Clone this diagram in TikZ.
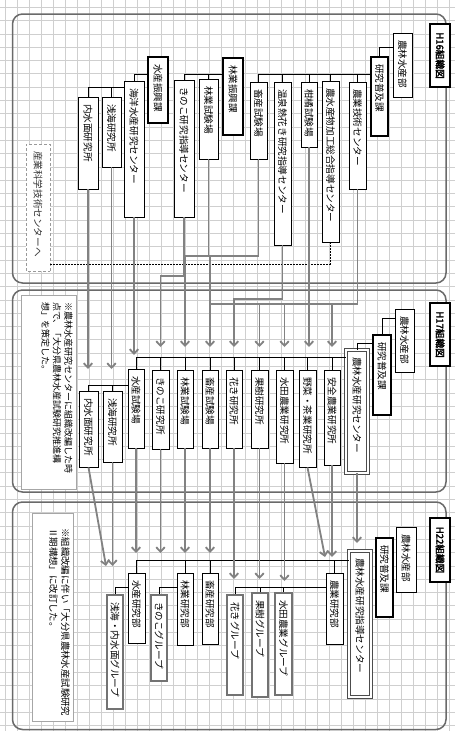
\documentclass[tikz,border=0pt]{standalone}
\usepackage{fontspec}
\setmainfont{Noto Sans CJK JP}
\newfontfamily\hdfont[FakeBold=2.5]{Noto Sans CJK JP}
\usetikzlibrary{arrows.meta}
\definecolor{gridc}{HTML}{CFCFCF}
\definecolor{panelc}{HTML}{6A6A6A}
\definecolor{arrc}{HTML}{828282}
\tikzset{
  ob/.style={draw=black, line width=0.8pt, fill=white, inner sep=0pt, rotate=-90, font=\fontsize{9.6}{11}\selectfont},
  tb/.style={ob, line width=1.9pt},
  db/.style={ob, draw=black!70, double=white, double distance=1.5pt, line width=0.8pt},
  gb/.style={ob, draw=black!55, line width=1.1pt},
  hb/.style={ob, line width=1.4pt, font=\hdfont\fontsize{9.6}{11}\selectfont},
  sb/.style={ob, draw=black!40, dash pattern=on 3pt off 2pt, text=black!80},
  nb/.style={ob, draw=black!35},
  ntxt/.style={rotate=-90, anchor=north west, align=left, inner sep=0pt},
  ln/.style={draw=black, line width=0.75pt},
  dl/.style={draw=black, line width=0.9pt, dash pattern=on 2pt off 1pt},
  garr/.style={draw=arrc, line width=1.8pt},
  arr/.style={garr, -{Straight Barb[length=4.5pt,width=8.5pt]}},
  pn/.style={draw=panelc, line width=1.5pt, rounded corners=10pt},
}
\newcommand\bx[7]{\node[#1, minimum width={(#5-#4)*1pt}, minimum height={(#3-#2)*1pt}] (#6) at ({(#2+#3)/2},{(#4+#5)/2}) {\makebox[\dimexpr #5pt-#4pt-14pt\relax][l]{#7}};}
\newcommand\hx[7]{\node[#1, minimum width={(#5-#4)*1pt}, minimum height={(#3-#2)*1pt}] (#6) at ({(#2+#3)/2},{(#4+#5)/2}) {#7};}
\begin{document}
\begin{tikzpicture}[x=1pt,y=-1pt]
\useasboundingbox (0,0) rectangle (455,731);
\fill[white] (0,0) rectangle (455,731);
\foreach \i in {0,...,37} \draw[gridc, line width=0.8pt] ({5.7+12*\i},0) -- ({5.7+12*\i},731);
\foreach \j in {0,...,54} \draw[gridc, line width=0.8pt] (0,{7.3+13.3*\j}) -- (455,{7.3+13.3*\j});
\draw[pn] (12.5,14) rectangle (446,283);
\draw[pn] (12.5,290) rectangle (446,492);
\draw[pn] (12.5,502) rectangle (446,729.5);

% ---------- H16 ----------
\hx{hb}{430}{450}{24}{87}{a_h}{H16組織図}
\bx{ob}{393}{412}{33}{97}{a_nrs}{農林水産部}
\bx{tb}{371}{388}{57}{136}{a_fk}{研究普及課}
\bx{ob}{349}{366}{82}{189}{a_ng}{農業技術センター}
\bx{ob}{322}{339}{81}{242}{a_nk}{農水産物加工総合指導センター}
\bx{ob}{301}{317}{82}{147}{a_kk}{柑橘試験場}
\bx{ob}{274}{291}{82}{245}{a_on}{温泉熱花き研究指導センター}
\bx{ob}{250}{267}{82}{159}{a_ch}{畜産試験場}
\bx{tb}{223}{243}{58}{135}{a_rs}{林業振興課}
\bx{ob}{199}{218}{79}{159}{a_rt}{林業試験場}
\bx{ob}{174}{194}{80}{217}{a_ki}{きのこ研究指導センター}
\bx{tb}{148}{168}{57}{123}{a_ss}{水産振興課}
\bx{ob}{124}{144}{81}{217}{a_ky}{海洋水産研究センター}
\bx{ob}{102}{121}{97}{167}{a_se}{浅海研究所}
\bx{ob}{78}{98}{97}{189}{a_na}{内水面研究所}
\bx{sb}{26}{50}{144}{271}{a_sg}{産業科学技術センターへ}

% ---------- H17 ----------
\hx{hb}{430}{450}{303}{366}{b_h}{H17組織図}
\bx{ob}{395}{414}{309}{372}{b_nrs}{農林水産部}
\bx{tb}{373}{391}{335}{415}{b_fk}{研究普及課}
\bx{db}{346}{368}{350}{473}{b_c}{農林水産研究センター}
\bx{ob}{324}{340}{370}{465}{b_an}{安全農業研究所}
\bx{ob}{299}{316}{370}{467}{b_ys}{野菜・茶業研究所}
\bx{ob}{276}{293}{370}{463}{b_sd}{水田農業研究所}
\bx{ob}{251}{268}{370}{448}{b_kj}{果樹研究所}
\bx{ob}{226}{242}{370}{448}{b_hk}{花き研究所}
\bx{ob}{202}{218}{370}{448}{b_ch}{畜産試験場}
\bx{ob}{177}{193}{370}{448}{b_rt}{林業試験場}
\bx{ob}{152}{169}{370}{449}{b_ki}{きのこ研究所}
\bx{ob}{128}{144}{369}{448}{b_st}{水産試験場}
\bx{ob}{103}{122}{391}{462}{b_se}{浅海研究所}
\bx{ob}{79}{98}{391}{467}{b_na}{内水面研究所}
\hx{nb}{21}{76}{295}{489}{b_note}{}
\node[ntxt, font=\fontsize{9}{11.6}\selectfont] (b_notetxt) at (73,302) {※農林水産研究センターに組織改編した時\\点で、「大分県農林水産試験研究推進構\\想」を策定した。};

% ---------- H22 ----------
\hx{hb}{430}{450}{518}{582}{c_h}{H22組織図}
\bx{ob}{396}{416}{527}{592}{c_nrs}{農林水産部}
\bx{tb}{376}{393}{538}{617}{c_fk}{研究普及課}
\bx{db}{349}{371}{551}{697}{c_c}{農林水産研究指導センター}
\bx{ob}{326}{343}{573}{644}{c_ng}{農業研究部}
\bx{gb}{275}{292}{593}{695}{c_sd}{水田農業グループ}
\bx{gb}{252}{268}{593}{697}{c_kj}{果樹グループ}
\bx{gb}{227}{243}{595}{695}{c_hk}{花きグループ}
\bx{ob}{202}{218}{573}{644}{c_ch}{畜産研究部}
\bx{ob}{177}{193}{573}{645}{c_rk}{林業研究部}
\bx{gb}{151}{167}{595}{681}{c_ki}{きのこグループ}
\bx{ob}{128}{145}{573}{643}{c_sk}{水産研究部}
\bx{gb}{107}{123}{595}{709}{c_sn}{浅海・内水面グループ}
\hx{nb}{32}{73}{513}{721}{c_note}{}
\node[ntxt, font=\fontsize{9.4}{12}\selectfont] (c_notetxt) at (70,528) {※組織改編に伴い「大分県農林水産試験研究\\Ⅱ期構想」に改訂した。};

% ---------- org connectors ----------
\draw[ln] (a_nrs.south |- 0,47) -| (a_fk.west);
\draw[ln] (a_fk.south |- 0,74) -| (a_ch.west);
\foreach \n in {a_ng,a_nk,a_kk,a_on} \draw[ln] (\n.west) -- (\n.west |- 0,74);
\draw[ln] (a_rs.south |- 0,74) -| (a_ki.west);
\draw[ln] (a_rt.west) -- (a_rt.west |- 0,74);
\draw[ln] (a_ss.south |- 0,74) -| (a_ky.west);
\draw[ln] (a_ky.south |- 0,87) -| (a_na.west);
\draw[ln] (a_se.west) -- (a_se.west |- 0,87);
\draw[dl] (a_nk.east) |- (a_sg.north |- 0,264);

\draw[ln] (b_nrs.south |- 0,318) -| (b_fk.west);
\draw[ln] (b_fk.south |- 0,343) -| (b_c.west);
\draw[ln] (b_c.south |- 0,357) -| (b_st.west);
\foreach \n in {b_an,b_ys,b_sd,b_kj,b_hk,b_ch,b_rt,b_ki} \draw[ln] (\n.west) -- (\n.west |- 0,357);
\draw[ln] (b_st.south |- 0,385) -| (b_na.west);
\draw[ln] (b_se.west) -- (b_se.west |- 0,385);

\draw[ln] (c_c.south |- 0,560) -| (c_sk.west);
\foreach \n in {c_ng,c_ch,c_rk} \draw[ln] (\n.west) -- (\n.west |- 0,560);
\draw[ln] (c_ng.south |- 0,587) -| (c_hk.west);
\foreach \n in {c_kj,c_sd} \draw[ln] (\n.west) -- (\n.west |- 0,587);
\draw[ln] (c_rk.south |- 0,587) -| (c_ki.west);
\draw[ln] (c_sk.south |- 0,587) -| (c_sn.west);

% ---------- transitions H16 -> H17 ----------
\draw[arr] (a_na.east) -- (a_na.east |- 0,369);
\draw[arr] (a_se.east) -- (a_se.east |- 0,369);
\draw[arr] (a_ky.east) -- (a_ky.east |- 0,355);
\draw[arr] (a_ki.east) -- (a_ki.east |- 0,276) -- (b_ki.west |- 0,276) -- (b_ki.west |- 0,347);
\draw[arr] (a_rt.east) -- (a_rt.east |- 0,256) -- (b_rt.west |- 0,256) -- (b_rt.west |- 0,347);
\draw[arr] (a_ch.east) -- (a_ch.east |- 0,256) -- (b_ch.west |- 0,256) -- (b_ch.west |- 0,347);
\draw[arr] (a_on.east) -- (a_on.east |- 0,299) -- (b_hk.west |- 0,299) -- (b_hk.west |- 0,347);
\draw[arr] (a_kk.east) -- (a_kk.east |- 0,347);
\draw[garr] (a_ng.east) -- (a_ng.east |- 0,304) -- (b_ch.west |- 0,304);
\foreach \n in {b_kj,b_sd,b_an} \draw[arr] (\n.west |- 0,304) -- (\n.west |- 0,347);

% ---------- transitions H17 -> H22 ----------
\coordinate (e_na) at (106,566);
\coordinate (e_ys) at (325,557);
\draw[arr] (b_na.east) -- (e_na);
\draw[arr] (b_se.east) -- (b_se.east |- 0,566);
\draw[arr] (b_st.east) -- (b_st.east |- 0,553);
\draw[arr] (b_ki.east) -- (b_ki.east |- 0,553);
\draw[arr] (b_rt.east) -- (b_rt.east |- 0,553);
\draw[arr] (b_ch.east) -- (b_ch.east |- 0,553);
\draw[arr] (b_hk.east) -- (b_hk.east |- 0,579);
\draw[arr] (b_kj.east) -- (b_kj.east |- 0,579);
\draw[arr] (b_sd.east) -- (b_sd.east |- 0,581);
\draw[arr] (b_ys.east) -- (e_ys);
\draw[arr] (b_an.east) -- (b_an.east |- 0,557);
\draw[arr] (b_c.east) -- (b_c.east |- 0,543);
\end{tikzpicture}
\end{document}
